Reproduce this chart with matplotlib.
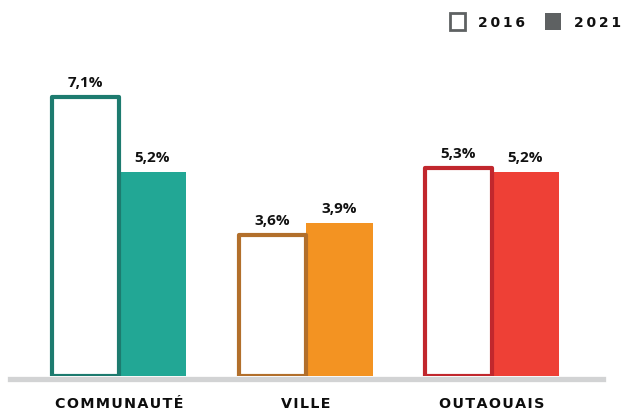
import matplotlib
matplotlib.use("Agg")
import matplotlib.pyplot as plt
from matplotlib.patches import Rectangle

categories = ["COMMUNAUTÉ", "VILLE", "OUTAOUAIS"]
values_2016 = [7.1, 3.6, 5.3]
values_2021 = [5.2, 3.9, 5.2]
labels_2016 = ["7,1%", "3,6%", "5,3%"]
labels_2021 = ["5,2%", "3,9%", "5,2%"]
edge_colors = ["#1d7b6f", "#b26f2b", "#c1272d"]
fill_colors = ["#22a795", "#f39322", "#ee4036"]
legend_labels = ["2016", "2021"]

W, H = 623, 414
fig = plt.figure(figsize=(W / 100, H / 100), dpi=100)
fig.patch.set_facecolor("white")

# axes in pixel geometry
x0, x1 = 10, 603
ybot, ytop = 377, 40
ax = fig.add_axes([x0 / W, 1 - ybot / H, (x1 - x0) / W, (ybot - ytop) / H])
ax.set_axis_off()
unit = 186.5
c0 = 119
ax.set_xlim((x0 - c0) / unit, (x1 - c0) / unit)
ax.set_ylim(0, (ybot - ytop) / 39.3)

bw = 67 / unit
xs = list(range(len(categories)))
font = "Open Sans"

for i, x in enumerate(xs):
    # 2021 filled
    ax.bar(x + bw / 2, values_2021[i], width=bw, color=fill_colors[i],
           edgecolor="none", zorder=2)
    # 2016 outlined
    ax.bar(x - bw / 2, values_2016[i], width=bw, facecolor="white",
           edgecolor=edge_colors[i], linewidth=3.0, joinstyle="round", zorder=3)
    ax.text(x - bw / 2, values_2016[i] + 0.2, labels_2016[i], ha="center",
            va="bottom", fontsize=11, fontweight="bold", family=font, color="#111111")
    ax.text(x + bw / 2, values_2021[i] + 0.2, labels_2021[i], ha="center",
            va="bottom", fontsize=11, fontweight="bold", family=font, color="#111111")
    spaced = "\u200a".join(categories[i])
    ax.text(x, -0.69, spaced, ha="center", va="center", fontsize=10.3,
            fontweight="bold", family=["DejaVu Sans"], color="#0d0d0d", clip_on=False)

# baseline
ax.axhline(-0.07, color="#d2d3d4", linewidth=3.8, zorder=4, clip_on=False)

# legend (figure coords in pixels)
def fx(px):
    return px / W

def fy(py):
    return 1 - py / H

fig.patches.append(Rectangle((fx(450), fy(31)), 15 / W, 17 / H, transform=fig.transFigure,
                             facecolor="white", edgecolor="#5e6162", linewidth=2.0))
fig.patches.append(Rectangle((fx(545), fy(31)), 16 / W, 17 / H, transform=fig.transFigure,
                             facecolor="#5e6162", edgecolor="none"))
fig.text(fx(478), fy(23), "\u2009".join(legend_labels[0]), ha="left", va="center",
         fontsize=10, fontweight="bold", family=["DejaVu Sans"], color="#111111")
fig.text(fx(574), fy(23), "\u2009".join(legend_labels[1]), ha="left", va="center",
         fontsize=10, fontweight="bold", family=["DejaVu Sans"], color="#111111")

fig.savefig("out.png", dpi=100)
